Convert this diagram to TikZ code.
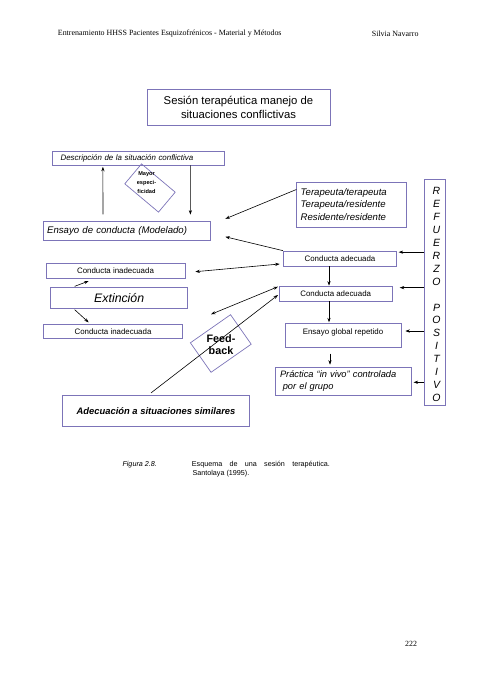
\documentclass[tikz,border=0pt]{standalone}
\usepackage{fontspec}
\setmainfont{Liberation Serif}
\setsansfont{Liberation Sans}
\usetikzlibrary{arrows.meta}
\definecolor{borde}{RGB}{124,116,184}

\begin{document}
\begin{tikzpicture}[x=1pt,y=-1pt,
    caja/.style={draw=borde, line width=0.7pt, inner sep=0pt},
    flecha/.style={-{Stealth[length=4.5pt,width=3.2pt]}, line width=0.6pt},
    dflecha/.style={{Stealth[length=4.5pt,width=3.2pt]}-{Stealth[length=4.5pt,width=3.2pt]}, line width=0.6pt},
    chica/.style={font=\sffamily\fontsize{7.9}{9}\selectfont}]
        \useasboundingbox (0,0) rectangle (480,679);
        %\draw [help lines] (0,0) grid[step=20] (480,679);

        % cabecera y pie
        \node [anchor=west, inner sep=0pt, font=\fontsize{7.95}{9}\selectfont] (cabecera) at (57.7,34) {Entrenamiento HHSS Pacientes Esquizofrénicos - Material y Métodos};
        \node [anchor=west, inner sep=0pt, font=\fontsize{7.95}{9}\selectfont] (autora) at (371.7,34) {Silvia Navarro};
        \node [anchor=west, inner sep=0pt, font=\fontsize{7.9}{9}\selectfont] (pagina) at (405,644.3) {222};

        % titulo
        \node [caja, minimum width=183pt, minimum height=36pt, align=center, font=\sffamily\fontsize{11.3}{14}\selectfont] (titulo) at (238.5,107) {Sesión terapéutica manejo de\\situaciones conflictivas};

        % columna izquierda
        \node [caja, minimum height=13.3pt, text width=155.3pt, inner xsep=8pt, align=left, font=\sffamily\itshape\fontsize{7.9}{9}\selectfont] (desc) at (138.3,158.3) {Descripción de la situación conflictiva};
        \node [caja, rotate=-40, minimum width=44pt, minimum height=26pt] (mayor) at (150,188) {};
        \node [inner sep=0pt, align=center, font=\sffamily\bfseries\fontsize{5.6}{8.8}\selectfont] (mayortxt) at (146.5,182.5) {Mayor\\especi-\\ficidad};
        \node [caja, minimum height=18.3pt, text width=159pt, inner xsep=3.85pt, align=left, font=\sffamily\itshape\fontsize{9.6}{11}\selectfont] (ensayo) at (126.7,230.8) {Ensayo de conducta (Modelado)};
        \node [caja, chica, minimum width=139pt, minimum height=15pt] (ci1) at (115.5,270.8) {Conducta inadecuada};
        \node [caja, minimum width=137pt, minimum height=20.6pt, font=\sffamily\itshape\fontsize{12.3}{14}\selectfont] (extin) at (119.2,298) {Extinción};
        \node [caja, chica, minimum width=139.4pt, minimum height=14.3pt] (ci2) at (113,331.2) {Conducta inadecuada};
        \node [caja, rotate=35, minimum width=49pt, minimum height=36pt] (feed) at (220.8,343.5) {};
        \node [inner sep=0pt, align=center, font=\sffamily\bfseries\fontsize{10.8}{12.7}\selectfont] (feedtxt) at (221,344.5) {Feed-\\back};
        \node [caja, minimum width=186.6pt, minimum height=31.7pt, font=\sffamily\bfseries\itshape\fontsize{9.4}{11}\selectfont] (adec) at (156,410.8) {Adecuación a situaciones similares};

        % columna derecha
        \node [caja, minimum height=45pt, text width=102pt, inner xsep=4pt, align=left, font=\sffamily\itshape\fontsize{9.6}{12.8}\selectfont] (terap) at (351.7,204.5) {Terapeuta/terapeuta\\Terapeuta/residente\\Residente/residente};
        \node [caja, chica, minimum width=113.4pt, minimum height=15pt] (ca1) at (340,258.5) {Conducta adecuada};
        \node [caja, chica, minimum width=112.7pt, minimum height=15pt] (ca2) at (335.7,293.5) {Conducta adecuada};
        \node [caja, chica, minimum width=116pt, text height=10.9pt, text depth=13.5pt] (global) at (343,335.5) {Ensayo global repetido};
        \node [caja, minimum height=27.7pt, text width=127.4pt, inner xsep=4.3pt, align=left, font=\sffamily\itshape\fontsize{9.3}{11.6}\selectfont] (practica) at (343.7,381.2) {Práctica “in vivo” controlada\\\hspace*{2.8pt}por el grupo};
        \node [caja, minimum width=21pt, minimum height=226pt] (refuerzo) at (434.5,292) {};
        \node [inner sep=0pt, align=center, font=\sffamily\itshape\fontsize{10.5}{12.94}\selectfont] (refuerzotxt) at (436.5,294.5) {R\\E\\F\\U\\E\\R\\Z\\O\\[12.94pt]P\\O\\S\\I\\T\\I\\V\\O};

        % pie de figura
        \node [anchor=west, inner sep=0pt, font=\sffamily\itshape\fontsize{7.2}{9}\selectfont] (figura) at (122.3,465) {Figura 2.8.};
        \node [anchor=west, inner sep=0pt, font=\sffamily\fontsize{7.2}{9}\selectfont] (esquema) at (191.7,465) {\makebox[138pt][s]{Esquema de una sesión terapéutica.}};
        \node [anchor=west, inner sep=0pt, font=\sffamily\fontsize{7.2}{9}\selectfont] (fuente) at (192.3,474) {Santolaya (1995).};

        % flechas
        \draw [flecha, shorten <=7pt, shorten >=1.5pt] ([xshift=60pt]ensayo.north west) -- ([xshift=50.6pt]desc.south west);
        \draw [flecha, shorten >=6.7pt] ([xshift=138pt]desc.south west) -- ([xshift=147.4pt]ensayo.north west);
        \draw [flecha] ([yshift=15pt]terap.west) -- ([xshift=15pt,yshift=12pt]ensayo.east);
        \draw [flecha] (ca1.north west) -- ([xshift=15pt,yshift=-6pt]ensayo.east);

        \draw [flecha, shorten >=1.6pt] ([yshift=-1.5pt]ca1.north east -| refuerzo.west) -- ([yshift=-1.5pt]ca1.north east);
        \draw [flecha, shorten >=7.3pt] ([yshift=-2pt]ca2.north east -| refuerzo.west) -- ([yshift=-2pt]ca2.north east);
        \draw [flecha, shorten >=4pt] ([yshift=4.5pt]global.east -| refuerzo.west) -- ([yshift=4.5pt]global.east);
        \draw [flecha, shorten >=1.5pt] ([yshift=-1.1pt]practica.east -| refuerzo.west) -- ([yshift=-1.1pt]practica.east);

        \draw [flecha] ([xshift=-11pt]ca1.south) -- ([xshift=-11pt]ca1.south |- ca2.north);
        \draw [flecha, shorten >=0.6pt] ([xshift=-6.7pt]ca2.south) -- ([xshift=-6.7pt]ca2.south |- global.north);
        \draw [flecha, shorten <=5.6pt, shorten >=2.3pt] ([xshift=-13pt]global.south) -- ([xshift=-13pt]global.south |- practica.north);

        \draw [dflecha] ([xshift=10pt,yshift=-0.9pt]ci1.east) -- ([xshift=-3.3pt,yshift=-5.5pt]ca1.west);
        \draw [flecha] ([xshift=24.3pt,yshift=1pt]extin.north west) -- ([xshift=43pt,yshift=-2.4pt]ci1.south west);
        \draw [flecha] ([xshift=24.3pt,yshift=-1pt]extin.south west) -- ([xshift=45.7pt,yshift=1.3pt]ci2.north west);
        \coordinate (fbend) at (211,314.3);
        \draw [dflecha] (fbend) -- ([xshift=-1pt,yshift=6.8pt]ca2.west);
        \draw [flecha] ([xshift=-5pt,yshift=1.7pt]adec.north) -- ([xshift=-1pt,yshift=-1.5pt]ca2.west);

    \end{tikzpicture}
\end{document}
